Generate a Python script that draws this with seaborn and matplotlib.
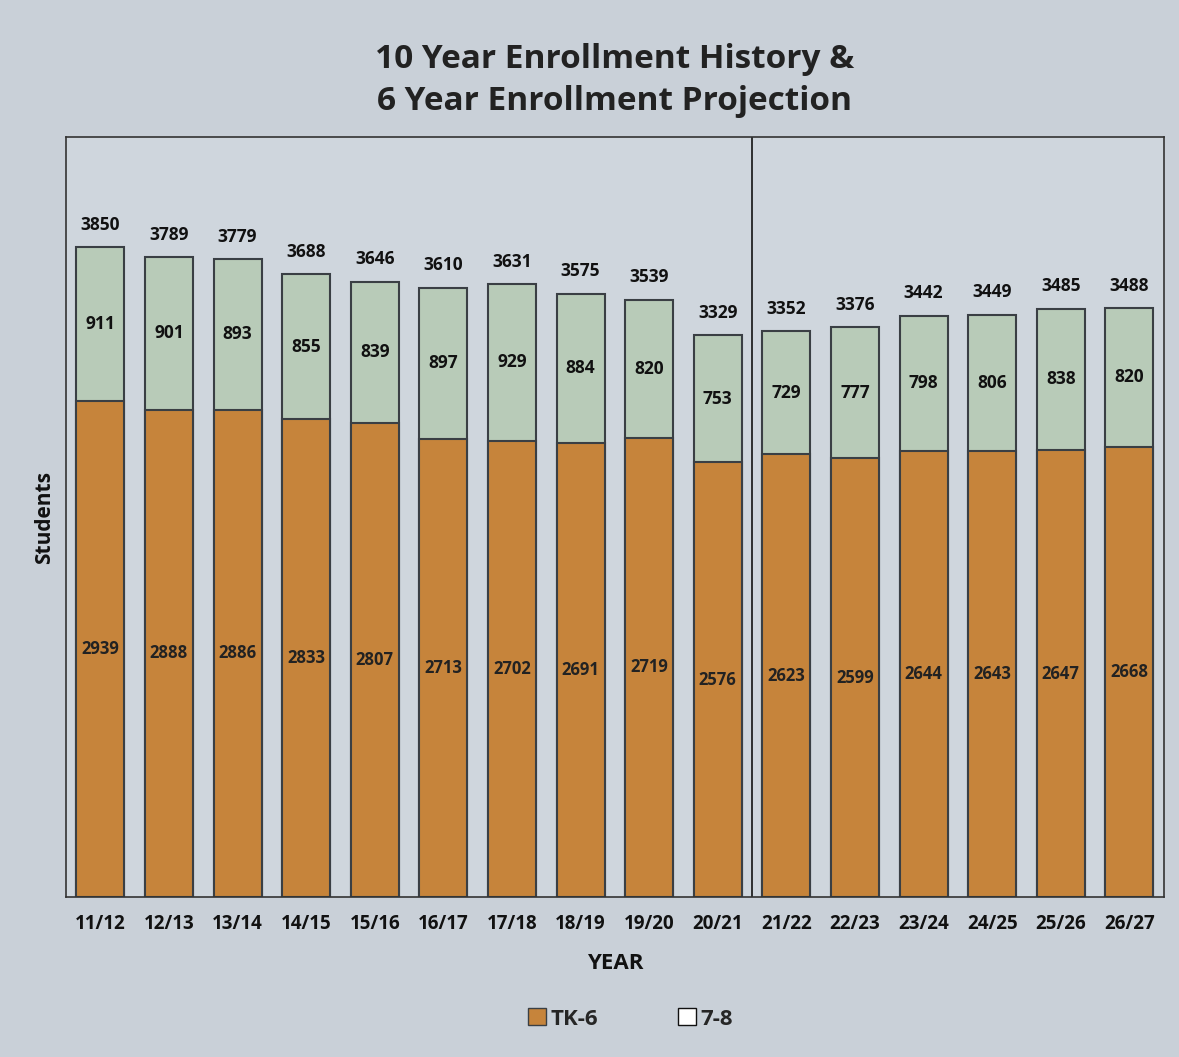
import matplotlib
matplotlib.use("Agg")
import matplotlib.pyplot as plt
import seaborn as sns
import pandas as pd
from matplotlib.patches import Patch

years = ["11/12", "12/13", "13/14", "14/15", "15/16", "16/17", "17/18", "18/19",
         "19/20", "20/21", "21/22", "22/23", "23/24", "24/25", "25/26", "26/27"]
tk6 = [2939, 2888, 2886, 2833, 2807, 2713, 2702, 2691, 2719, 2576,
       2623, 2599, 2644, 2643, 2647, 2668]
g78 = [911, 901, 893, 855, 839, 897, 929, 884, 820, 753,
       729, 777, 798, 806, 838, 820]
totals = [3850, 3789, 3779, 3688, 3646, 3610, 3631, 3575, 3539, 3329,
          3352, 3376, 3442, 3449, 3485, 3488]

df = pd.DataFrame({"year": years, "tk6": tk6, "g78": g78, "total": totals})

sns.set_theme(style="white")
plt.rcParams["font.family"] = ["Open Sans", "DejaVu Sans"]

bg = "#c9d0d8"
orange = "#c6843b"
green = "#b8cbb8"
edge = "#3a3f44"

fig = plt.figure(figsize=(11.79, 10.57), dpi=100, facecolor=bg)
ax = fig.add_axes([0.056, 0.1514, 0.931, 0.7186])
ax.set_facecolor("#cfd6dd")

sns.barplot(data=df, x="year", y="total", color=green, width=0.7,
            edgecolor=edge, linewidth=1.5, ax=ax, saturation=1)
sns.barplot(data=df, x="year", y="tk6", color=orange, width=0.7,
            edgecolor=edge, linewidth=1.5, ax=ax, saturation=1)

for i in range(len(years)):
    ax.text(i, tk6[i] / 2, str(tk6[i]), ha="center", va="center",
            fontsize=12, fontweight="bold", color="#222222")
    ax.text(i, tk6[i] + g78[i] / 2, str(g78[i]), ha="center", va="center",
            fontsize=12.5, fontweight="bold", color="#111111")
    ax.text(i, totals[i] + 80, str(totals[i]), ha="center", va="bottom",
            fontsize=12.5, fontweight="bold", color="#111111")

ax.set_ylim(0, 4500)
ax.set_xlim(-0.5, len(years) - 0.5)
ax.axvline(9.5, color="#222222", linewidth=1.3)
ax.set_yticks([])
ax.tick_params(axis="x", length=0, pad=12)
for lbl in ax.get_xticklabels():
    lbl.set_fontweight("bold")
    lbl.set_fontsize(13.5)
    lbl.set_color("#111111")
for s in ax.spines.values():
    s.set_visible(True)
    s.set_color("#333333")
    s.set_linewidth(1.2)

ax.set_xlabel("YEAR", fontsize=16, fontweight="bold", labelpad=14, color="#111111")
ax.set_ylabel("Students", fontsize=15, fontweight="bold", labelpad=8, color="#111111")

fig.text(0.521, 0.944, "10 Year Enrollment History &", ha="center", va="center",
         fontsize=24, fontweight="bold", color="#222222")
fig.text(0.521, 0.904, "6 Year Enrollment Projection", ha="center", va="center",
         fontsize=24, fontweight="bold", color="#222222")

handles = [Patch(facecolor=orange, edgecolor=edge, label="TK-6"),
           Patch(facecolor="white", edgecolor="#111111", label="7-8")]
leg = fig.legend(handles=handles, loc="center", bbox_to_anchor=(0.535, 0.036),
                 ncol=2, frameon=False, prop={"weight": "bold", "size": 16},
                 handlelength=0.8, handleheight=0.8, handletextpad=0.2,
                 columnspacing=3.6)

fig.savefig("out.png", dpi=100, facecolor=bg)
